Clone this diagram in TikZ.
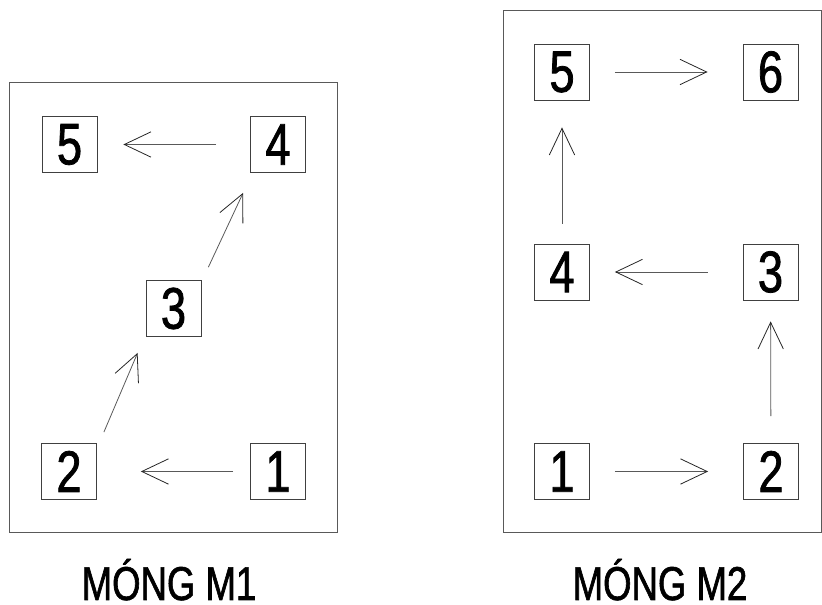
\documentclass[tikz,border=0pt]{standalone}
\usepackage{fontspec}
\usepackage{tikz}
\usetikzlibrary{arrows.meta}
\newfontfamily\narrowfont[FakeStretch=0.77, FakeBold=1.3]{Liberation Sans}

\begin{document}
\begin{tikzpicture}[x=0.75pt, y=-0.75pt,
			box_style/.style={draw=black!75, line width=0.6pt, minimum width=41.25pt, minimum height=42pt, inner sep=0pt, font=\narrowfont\fontsize{44}{44}\selectfont},
			frame_style/.style={draw=black!65, line width=0.75pt},
			arrow_style/.style={draw=black!65, line width=0.6pt, -{Straight Barb[length=20pt, width=19pt, line width=0.6pt, black!85]}},
			title_style/.style={anchor=base, inner sep=0pt, font=\narrowfont\fontsize{35.6}{36}\selectfont}]
			
			\useasboundingbox (0,0) rectangle (822,605);
			
			% frames
			\draw[frame_style] (9.5,83) rectangle (337,533);
			\draw[frame_style] (503,11) rectangle (821,533);
			
			% boxes of the first footing
			\foreach \x/\y/\n in {278/471.5/1, 69/471.5/2, 173.5/308.5/3, 278/144.5/4, 69.5/144.5/5}{
				\node[box_style] (a\n) at (\x,\y) {\n};}
			
			% boxes of the second footing
			\foreach \x/\y/\n in {562/471.5/1, 771/471.5/2, 770.5/272/3, 562/272/4, 562/72/5, 770.5/72/6}{
				\node[box_style] (b\n) at (\x,\y) {\n};}
			
			% straight connectors
			\foreach \x/\y/\s/\e in {a1/a2/12.75pt/33pt, a4/a5/25.5pt/19.5pt, b1/b2/18.75pt/26.25pt, b2/b3/20.25pt/15.75pt, b3/b4/26.25pt/18.75pt, b4/b5/15pt/20.25pt, b5/b6/18.75pt/26.25pt}{
				\draw[arrow_style, shorten <=\s, shorten >=\e] (\x) -- (\y);}
			
			% slanted connectors
			\draw[arrow_style] ([shift={(7,-11)}]a2.north east) -- ([shift={(-8,16)}]a3.south west);
			\draw[arrow_style] ([shift={(7,-13)}]a3.north east) -- ([shift={(-7,20)}]a4.south west);
			
			\node[title_style] (t1) at (169,600) {MÓNG M1};
			\node[title_style] (t2) at (660,600) {MÓNG M2};
		\end{tikzpicture}
\end{document}
